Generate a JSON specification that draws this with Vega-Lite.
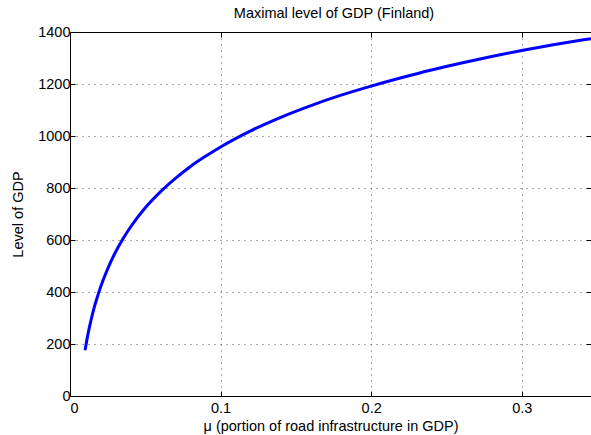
{
  "$schema": "https://vega.github.io/schema/vega-lite/v6.json",
  "width": 521,
  "height": 364,
  "autosize": {"type": "none"},
  "padding": {"left": 70, "top": 32, "right": 0, "bottom": 39},
  "background": "white",
  "config": {
    "view": {"stroke": null},
    "font": "Liberation Sans",
    "axis": {
      "domainColor": "black",
      "domainWidth": 1,
      "tickColor": "black",
      "tickWidth": 1,
      "tickSize": -5,
      "labelColor": "black",
      "labelFontSize": 14.5,
      "labelFont": "Liberation Sans",
      "titleColor": "black",
      "titleFontSize": 14.5,
      "titleFont": "Liberation Sans",
      "titleFontWeight": "normal",
      "gridColor": "#555555",
      "gridDash": [1, 5],
      "gridWidth": 1,
      "gridOpacity": 1
    }
  },
  "title": {
    "text": "Maximal level of GDP (Finland)",
    "fontSize": 14.5,
    "fontWeight": "normal",
    "font": "Liberation Sans",
    "color": "black",
    "anchor": "middle",
    "offset": 3,
    "dx": 3.5
  },
  "data": {
    "values": [
      {"mu": 0.01, "gdp": 176},
      {"mu": 0.012, "gdp": 240},
      {"mu": 0.014, "gdp": 293},
      {"mu": 0.016, "gdp": 339},
      {"mu": 0.018, "gdp": 378},
      {"mu": 0.02, "gdp": 414},
      {"mu": 0.025, "gdp": 489},
      {"mu": 0.03, "gdp": 551},
      {"mu": 0.035, "gdp": 603},
      {"mu": 0.04, "gdp": 648},
      {"mu": 0.05, "gdp": 724},
      {"mu": 0.06, "gdp": 785},
      {"mu": 0.07, "gdp": 837},
      {"mu": 0.08, "gdp": 883},
      {"mu": 0.09, "gdp": 922},
      {"mu": 0.1, "gdp": 958},
      {"mu": 0.12, "gdp": 1020},
      {"mu": 0.14, "gdp": 1072},
      {"mu": 0.16, "gdp": 1117},
      {"mu": 0.18, "gdp": 1157},
      {"mu": 0.2, "gdp": 1192},
      {"mu": 0.22, "gdp": 1224},
      {"mu": 0.24, "gdp": 1254},
      {"mu": 0.26, "gdp": 1281},
      {"mu": 0.28, "gdp": 1306},
      {"mu": 0.3, "gdp": 1329},
      {"mu": 0.32, "gdp": 1350},
      {"mu": 0.34, "gdp": 1369},
      {"mu": 0.35, "gdp": 1378}
    ]
  },
  "resolve": {"axis": {"x": "independent", "y": "independent"}},
  "layer": [
    {
      "mark": {"type": "line", "color": "#0000ff", "strokeWidth": 3, "interpolate": "monotone", "clip": true},
      "encoding": {
        "x": {
          "field": "mu",
          "type": "quantitative",
          "scale": {"domain": [0, 0.346], "nice": false, "zero": false},
          "axis": {
            "orient": "bottom",
            "values": [0, 0.1, 0.2, 0.3],
            "format": "~g",
            "grid": true,
            "labelPadding": 10,
            "titlePadding": 5,
            "title": "μ (portion of road infrastructure in GDP)"
          }
        },
        "y": {
          "field": "gdp",
          "type": "quantitative",
          "scale": {"domain": [0, 1400], "nice": false},
          "axis": {
            "orient": "left",
            "values": [0, 200, 400, 600, 800, 1000, 1200, 1400],
            "format": "d",
            "grid": true,
            "labelPadding": 5,
            "titlePadding": 12,
            "title": "Level of GDP"
          }
        }
      }
    },
    {
      "mark": {"type": "line", "opacity": 0, "clip": true},
      "encoding": {
        "x": {
          "field": "mu",
          "type": "quantitative",
          "axis": {
            "orient": "top",
            "values": [0, 0.1, 0.2, 0.3],
            "labels": false,
            "grid": false,
            "title": null
          }
        },
        "y": {
          "field": "gdp",
          "type": "quantitative",
          "axis": {
            "orient": "right",
            "values": [0, 200, 400, 600, 800, 1000, 1200, 1400],
            "labels": false,
            "grid": false,
            "domain": false,
            "title": null
          }
        }
      }
    }
  ]
}
